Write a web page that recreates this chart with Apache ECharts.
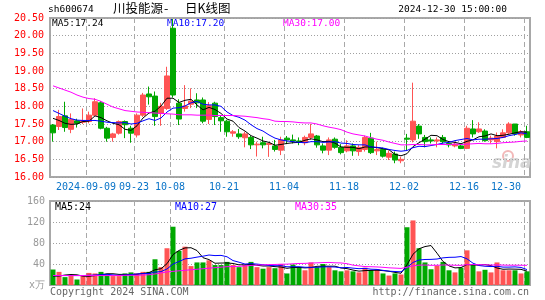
<!DOCTYPE html>
<html>
<head>
<meta charset="utf-8">
<script src="https://cdn.jsdelivr.net/npm/echarts/dist/echarts.min.js"></script>
<style>
html,body{margin:0;padding:0;background:#fff;}
#c{width:545px;height:300px;}
</style>
</head>
<body>
<div id="c"></div>
<script>
var dates = [
'2024-08-30',
'2024-09-02','2024-09-03','2024-09-04','2024-09-05','2024-09-06',
'2024-09-09','2024-09-10','2024-09-11','2024-09-12','2024-09-13',
'2024-09-18','2024-09-19','2024-09-20',
'2024-09-23','2024-09-24','2024-09-25','2024-09-26','2024-09-27','2024-09-30',
'2024-10-08','2024-10-09','2024-10-10','2024-10-11',
'2024-10-14','2024-10-15','2024-10-16','2024-10-17','2024-10-18',
'2024-10-21','2024-10-22','2024-10-23','2024-10-24','2024-10-25',
'2024-10-28','2024-10-29','2024-10-30','2024-10-31','2024-11-01',
'2024-11-04','2024-11-05','2024-11-06','2024-11-07','2024-11-08',
'2024-11-11','2024-11-12','2024-11-13','2024-11-14','2024-11-15',
'2024-11-18','2024-11-19','2024-11-20','2024-11-21','2024-11-22',
'2024-11-25','2024-11-26','2024-11-27','2024-11-28','2024-11-29',
'2024-12-02','2024-12-03','2024-12-04','2024-12-05','2024-12-06',
'2024-12-09','2024-12-10','2024-12-11','2024-12-12','2024-12-13',
'2024-12-16','2024-12-17','2024-12-18','2024-12-19','2024-12-20',
'2024-12-23','2024-12-24','2024-12-25','2024-12-26','2024-12-27',
'2024-12-30'
];
var tickDates = ['2024-09-09','2024-09-23','2024-10-08','2024-10-21','2024-11-04','2024-11-18','2024-12-02','2024-12-16','2024-12-30'];
var tickTexts = ['2024-09-09','09-23','10-08','10-21','11-04','11-18','12-02','12-16','12-30'];

var opens = [17.47,17.43,17.73,17.35,17.59, 17.55,17.57,17.75,18.10,17.38, 17.12,17.24,17.57,17.38,17.19, 17.75,18.35,18.29,17.80,17.94,
 20.21,18.09,17.94,18.06,18.18, 18.18,17.63,18.09,17.68,17.58, 17.24,17.22,17.11,17.12,16.91, 16.97,16.92,16.88,16.76,17.10,
 17.05,17.02,16.97,17.12,17.16, 16.88,16.76,17.07,16.84,16.74, 16.88,16.72,16.78,17.10,16.74, 16.78,16.56,16.65,16.46,17.10,
 17.05,17.44,17.12,17.05,17.02, 17.12,16.95,16.88,16.88,16.81, 17.36,17.28,17.30,17.05,17.00, 17.12,17.25,17.50,17.19,17.28];
var closes = [17.25,17.71,17.40,17.63,17.52, 17.60,17.75,18.13,17.38,17.10, 17.22,17.57,17.48,17.24,17.75, 18.32,18.27,17.71,18.00,18.86,
 18.32,17.64,18.01,18.15,18.10, 17.58,18.02,17.71,17.59,17.28, 17.28,17.14,17.22,16.91,16.93, 16.91,16.95,16.78,17.05,17.05,
 17.02,16.98,17.12,17.22,16.91, 16.76,17.05,16.84,16.69,16.88, 16.74,16.84,17.12,16.69,16.78, 16.59,16.67,16.48,16.50,17.07,
 17.58,17.22,17.00,17.02,17.05, 17.00,16.91,16.93,16.81,17.38, 17.22,17.36,17.03,17.10,17.16, 17.25,17.50,17.22,17.28,17.12];
var lows = [17.00,17.33,17.28,17.24,17.40, 17.50,17.52,17.72,17.35,17.00, 17.00,17.20,17.10,16.97,17.12, 17.70,18.05,17.45,17.45,17.90,
 18.25,17.47,17.85,17.95,17.95, 17.52,17.50,17.47,17.28,17.14, 17.14,17.08,16.84,16.79,16.58, 16.81,16.57,16.72,16.62,16.93,
 16.95,16.90,16.90,17.05,16.83, 16.67,16.62,16.80,16.64,16.70, 16.60,16.60,16.72,16.65,16.62, 16.55,16.48,16.39,16.39,16.76,
 16.98,17.08,16.84,16.95,16.84, 16.95,16.84,16.84,16.79,16.79, 17.12,17.25,17.00,16.95,16.81, 17.10,17.22,17.17,17.12,17.10];
var highs = [17.50,17.90,18.13,17.80,17.65, 17.94,17.85,18.23,18.15,17.42, 17.25,17.60,17.60,17.45,17.80, 18.38,18.56,18.42,18.10,19.12,
 20.47,18.20,18.60,18.51,18.37, 18.25,18.12,18.13,17.75,17.62, 17.33,17.36,17.28,17.17,17.00, 17.14,16.98,17.05,17.14,17.16,
 17.20,17.12,17.17,17.50,17.19, 16.95,17.12,17.12,16.93,17.04, 16.95,16.90,17.17,17.25,17.00, 16.83,16.75,16.72,16.57,17.22,
 18.67,17.50,17.19,17.12,17.12, 17.19,17.00,17.00,16.95,17.45, 17.61,17.55,17.35,17.17,17.26, 17.35,17.55,17.50,17.33,17.45];

var ma5 = [17.66,17.60,17.52,17.49,17.50, 17.57,17.58,17.73,17.68,17.59, 17.52,17.48,17.35,17.32,17.45, 17.67,17.81,17.86,18.01,18.23,
 18.23,18.11,18.17,18.20,18.04, 17.90,17.97,17.91,17.80,17.64, 17.58,17.40,17.30,17.17,17.10, 17.02,16.98,16.90,16.92,16.95,
 16.97,16.98,17.04,17.08,17.05, 17.00,17.01,16.96,16.85,16.84, 16.84,16.80,16.85,16.85,16.83, 16.80,16.77,16.64,16.60,16.66,
 16.86,16.97,17.07,17.18,17.17, 17.06,17.00,16.98,16.94,17.01, 17.05,17.14,17.16,17.22,17.17, 17.18,17.21,17.25,17.28,17.27];
var ma10 = [17.88,17.80,17.72,17.65,17.61, 17.60,17.60,17.60,17.58,17.55, 17.54,17.53,17.54,17.50,17.52, 17.59,17.65,17.60,17.67,17.84,
 17.95,17.96,18.01,18.10,18.14, 18.06,18.04,18.04,18.00,17.84, 17.74,17.69,17.61,17.48,17.37, 17.30,17.19,17.10,17.05,17.02,
 17.00,16.98,16.97,17.00,17.00, 16.98,16.99,17.00,16.96,16.95, 16.92,16.91,16.91,16.85,16.84, 16.82,16.78,16.75,16.73,16.75,
 16.83,16.87,16.86,16.89,16.92, 16.96,16.98,17.03,17.06,17.09, 17.05,17.07,17.07,17.08,17.09, 17.12,17.17,17.20,17.25,17.22];
var ma30 = [18.58,18.52,18.46,18.40,18.32, 18.26,18.22,18.20,18.14,18.06, 17.98,17.93,17.88,17.86,17.84, 17.83,17.82,17.81,17.80,17.79,
 17.78,17.76,17.76,17.76,17.75, 17.75,17.75,17.74,17.74,17.74, 17.74,17.73,17.72,17.70,17.68, 17.65,17.63,17.58,17.57,17.57,
 17.56,17.54,17.53,17.53,17.50, 17.45,17.41,17.38,17.34,17.27, 17.22,17.19,17.16,17.11,17.07, 17.04,16.99,16.95,16.91,16.91,
 16.92,16.92,16.91,16.91,16.92, 16.92,16.92,16.93,16.92,16.93, 16.94,16.95,16.94,16.94,16.95, 16.97,16.98,16.99,17.01,17.02];

var volumes = [29.5,25,15,17,10.5, 17,23,22,25,20, 17,17,22,24,22, 25,25,49,34,70,
 111,65,73,36,43, 43,47,38,38,44, 38,34,38,44,34, 31,34,32,40,22,
 39,34,28,43,34, 40,34,28,26,28, 26,24,33,28,30, 22,18,22,20,110,
 123,70,43,30,37, 44,28,24,33,66, 40,26,29,24,43, 28,28,28,22,26];
var vma5 = [17,17,19,20,19.4, 16.9,16.5,17.9,19.5,21.4, 21.4,20.2,20.2,20,20.4, 22,23.6,29,31,40.6,
 57.8,65.8,70.6,71,65.6, 52,48.4,41.4,41.8,42, 41,38.4,38.4,39.6,37.6, 36.2,36.2,35,34.2,31.8,
 33.4,33.4,32.6,33.2,35.6, 35.8,35.8,35.8,32.4,31.2, 28.4,26.4,27.4,27.8,28.2, 27.4,26.2,24,22.4,38.4,
 58.6,69,73.2,75.2,60.6, 44.8,36.4,32.6,33.2,39, 38.2,37.8,38.8,37,32.4, 30,30.4,30.2,29.8,26.4];
var vma10 = [18,18,18,18,18, 18,18.5,19,19.5,20.4, 19.2,18.4,19.1,19.8,20.9, 21.7,21.9,24.6,25.5,30.5,
 39.9,44.7,49.8,51,53.1, 54.9,57.1,56,56.4,53.8, 46.5,43.4,39.9,40.7,39.8, 38.6,37.3,36.7,36.9,34.7,
 34.8,34.8,33.8,33.7,33.7, 34.6,34.6,34.2,32.8,33.4, 32.1,31.1,31.6,30.1,29.7, 27.9,26.3,25.7,25.1,33.3,
 43,47.6,48.6,48.8,49.5, 51.7,52.7,52.9,54.2,49.8, 41.5,37.1,35.7,35.1,35.7, 34.1,34.1,34.5,33.4,29.4];
var vma30 = [18,18,18,18,18, 18,18,18,18,18, 18,18,18.5,18.5,18.5, 19,19.5,21,23,25,
 26,27,28,29,30, 31,32,33,34,34.9, 35.2,35.5,36.3,37.2,37.9, 38.4,38.8,39.1,39.6,39.7,
 40.4,41,41.2,41.8,42.2, 42.7,43,42.3,42,40.6, 37.8,36.4,35.1,34.8,34.4, 33.7,32.7,32.2,31.6,33.8,
 36.6,37.8,38,37.5,37.6, 38.1,37.9,37.6,37.4,38.8, 38.9,38.6,38.6,38,38.3, 37.9,37.7,37.7,37.6,37.5];

var UP = '#ff5454', DOWN = '#00a800';
var MONO = '"DejaVu Sans Mono", "Liberation Mono", monospace';

var kdata = dates.map(function(d, i){ return [opens[i], closes[i], lows[i], highs[i]]; });
var vdata = volumes.map(function(v, i){
  return {value: v, itemStyle: {color: closes[i] >= opens[i] ? UP : DOWN}};
});
function isTick(idx, val){ return tickDates.indexOf(val) >= 0; }
function tickText(val){ var k = tickDates.indexOf(val); return k >= 0 ? tickTexts[k] : ''; }

var gridLineV = {show: true, interval: isTick, lineStyle: {color: '#a8a8a8', width: 1, type: [5, 3]}};
var dotted = {show: true, lineStyle: {color: '#a0a0a0', width: 1, type: [1, 2]}};

var chart = echarts.init(document.getElementById('c'), null, {renderer: 'canvas'});
chart.setOption({
  animation: false,
  backgroundColor: '#fff',
  grid: [
    {left: 50, top: 18, width: 480, height: 159, show: true, borderColor: '#a8a8a8', borderWidth: 2, backgroundColor: 'transparent'},
    {left: 50, top: 201, width: 480, height: 84, show: true, borderColor: '#a8a8a8', borderWidth: 2, backgroundColor: 'transparent'}
  ],
  xAxis: [
    {type: 'category', gridIndex: 0, data: dates, boundaryGap: true,
     axisLine: {show: false}, axisTick: {show: false},
     axisLabel: {show: true, interval: isTick, formatter: tickText, color: '#0a74c8', fontFamily: MONO, fontSize: 10, margin: 5, padding: [0, 6, 0, 0], alignMaxLabel: 'right'},
     splitLine: gridLineV},
    {type: 'category', gridIndex: 1, data: dates, boundaryGap: true,
     axisLine: {show: false}, axisTick: {show: false}, axisLabel: {show: false},
     splitLine: gridLineV}
  ],
  yAxis: [
    {type: 'value', gridIndex: 0, min: 16, max: 20.5, interval: 0.5, position: 'left',
     axisLine: {show: false}, axisTick: {show: false},
     axisLabel: {color: '#ff0000', fontFamily: MONO, fontSize: 10, margin: 6, formatter: function(v){ return v.toFixed(2); }},
     splitLine: dotted},
    {type: 'value', gridIndex: 1, min: 0, max: 160, interval: 40, position: 'left',
     axisLine: {show: false}, axisTick: {show: false},
     axisLabel: {color: '#999999', fontFamily: MONO, fontSize: 10, margin: 5, formatter: function(v){ return v === 0 ? 'x万' : String(v); }},
     splitLine: dotted}
  ],
  series: [
    {type: 'candlestick', xAxisIndex: 0, yAxisIndex: 0, data: kdata, barWidth: 5,
     itemStyle: {color: UP, color0: DOWN, borderColor: UP, borderColor0: DOWN, borderWidth: 1}},
    {type: 'line', xAxisIndex: 0, yAxisIndex: 0, data: ma5, symbol: 'none', lineStyle: {color: '#000', width: 1}, z: 5},
    {type: 'line', xAxisIndex: 0, yAxisIndex: 0, data: ma10, symbol: 'none', lineStyle: {color: '#0000ff', width: 1}, z: 5},
    {type: 'line', xAxisIndex: 0, yAxisIndex: 0, data: ma30, symbol: 'none', lineStyle: {color: '#ff00ff', width: 1}, z: 5},
    {type: 'bar', xAxisIndex: 1, yAxisIndex: 1, data: vdata, barWidth: 5},
    {type: 'line', xAxisIndex: 1, yAxisIndex: 1, data: vma5, symbol: 'none', lineStyle: {color: '#000', width: 1}, z: 5},
    {type: 'line', xAxisIndex: 1, yAxisIndex: 1, data: vma10, symbol: 'none', lineStyle: {color: '#0000ff', width: 1}, z: 5},
    {type: 'line', xAxisIndex: 1, yAxisIndex: 1, data: vma30, symbol: 'none', lineStyle: {color: '#ff00ff', width: 1}, z: 5}
  ],
  graphic: [
    {type: 'text', left: 48, top: 5, style: {text: 'sh600674', fill: '#000', font: '9.5px ' + MONO}},
    {type: 'text', left: 113, top: 2, style: {text: '川投能源', fill: '#000', font: '12.5px "Noto Sans CJK SC"'}},
    {type: 'text', left: 164, top: 2, style: {text: '-', fill: '#000', font: '12.5px "Noto Sans CJK SC"'}},
    {type: 'text', left: 185, top: 2, style: {text: '日K线图', fill: '#000', font: '12.5px "Noto Sans CJK SC"'}},
    {type: 'text', right: 38, top: 5, style: {text: '2024-12-30 15:00:00', fill: '#000', font: '9.5px ' + MONO}},
    {type: 'text', left: 52, top: 19, style: {text: 'MA5:17.24', fill: '#000', font: '9.5px ' + MONO}},
    {type: 'text', left: 167, top: 19, style: {text: 'MA10:17.20', fill: '#0000ff', font: '9.5px ' + MONO}},
    {type: 'text', left: 283, top: 19, style: {text: 'MA30:17.00', fill: '#ff00ff', font: '9.5px ' + MONO}},
    {type: 'text', left: 55, top: 202, style: {text: 'MA5:24', fill: '#000', font: '10px ' + MONO}},
    {type: 'text', left: 175, top: 202, style: {text: 'MA10:27', fill: '#0000ff', font: '10px ' + MONO}},
    {type: 'text', left: 295, top: 202, style: {text: 'MA30:35', fill: '#ff00ff', font: '10px ' + MONO}},
    {type: 'text', left: 50, top: 287, style: {text: 'Copyright 2024 SINA.COM', fill: '#666', font: '10px ' + MONO}},
    {type: 'text', right: 16, top: 287, style: {text: 'http://finance.sina.com.cn', fill: '#666', font: '10px ' + MONO}},
    {type: 'circle', shape: {cx: 508, cy: 156, r: 5}, style: {fill: 'none', stroke: '#f2b8b8', lineWidth: 2}, z: 0},
    {type: 'text', left: 492, top: 155, style: {text: 'sina', fill: '#d4d4d4', font: 'italic bold 17px "DejaVu Sans"'}, z: 0}
  ]
});
</script>
</body>
</html>
